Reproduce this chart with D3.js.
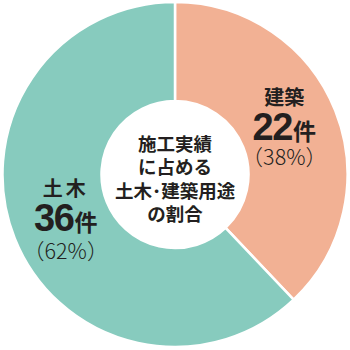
<!DOCTYPE html>
<html>
<head>
<meta charset="utf-8">
<script src="https://cdn.jsdelivr.net/npm/d3@7"></script>
<style>
  body { margin: 0; background: #fff; }
  svg { display: block; }
  text { font-family: "Noto Sans CJK JP", sans-serif; fill: #231f20; }
</style>
</head>
<body>
<div id="vis"></div>
<script>
// values
var categories = ["建築", "土木"];
var counts = [22, 36];
var percents = [38, 62];
var colors = ["#f2b194", "#87cbbe"];
var centerLines = ["施工実績", "に占める", "土木･建築用途", "の割合"];

var width = 350, height = 350;
var cx = 175, cy = 174.5;
var outerR = 172.5, innerR = 73.5;

var svg = d3.select("#vis")
    .append("svg")
    .attr("width", width)
    .attr("height", height);

var g = svg.append("g")
    .attr("transform", "translate(" + cx + "," + cy + ")");

var pie = d3.pie().sort(null).value(function(d) { return d; });
var arcs = pie(counts);

var arc = d3.arc().innerRadius(innerR).outerRadius(outerR);

g.selectAll("path")
    .data(arcs)
    .enter()
    .append("path")
    .attr("d", arc)
    .attr("fill", function(d, i) { return colors[i]; })
    .attr("stroke", "#fff")
    .attr("stroke-width", 2.5);

// center text
var centerText = g.append("text")
    .attr("text-anchor", "middle")
    .attr("font-weight", "bold")
    .attr("font-size", 18.5);
centerText.selectAll("tspan")
    .data(centerLines)
    .enter()
    .append("tspan")
    .attr("x", 0)
    .attr("y", function(d, i) { return -24 + i * 23.5; })
    .text(function(d) { return d; });

// slice labels
var offsets = [[-5, 0], [5, 0]];

arcs.forEach(function(d, i) {
  var c = arc.centroid(d);
  var lx = c[0] + offsets[i][0], ly = c[1] + offsets[i][1];
  var lab = g.append("g").attr("transform", "translate(" + lx + "," + ly + ")");

  lab.append("text")
    .attr("text-anchor", "middle")
    .attr("y", -24)
    .attr("font-weight", "bold")
    .attr("font-size", 20)
    .attr("letter-spacing", i == 1 ? 3 : 0)
    .text(categories[i]);

  var big = lab.append("text")
    .attr("text-anchor", "middle")
    .attr("y", 11)
    .attr("font-weight", "bold");
  big.append("tspan")
    .attr("font-family", "'Liberation Sans', Arial, sans-serif")
    .attr("font-size", 38)
    .attr("letter-spacing", -1.5)
    .text(counts[i]);
  big.append("tspan")
    .attr("font-size", 23)
    .attr("dx", 1)
    .text("件");

  lab.append("text")
    .attr("text-anchor", "middle")
    .attr("y", i == 1 ? 39 : 36)
    .attr("font-size", 21.5)
    .attr("font-weight", 300)
    .text("（" + percents[i] + "%）");
});
</script>
</body>
</html>
